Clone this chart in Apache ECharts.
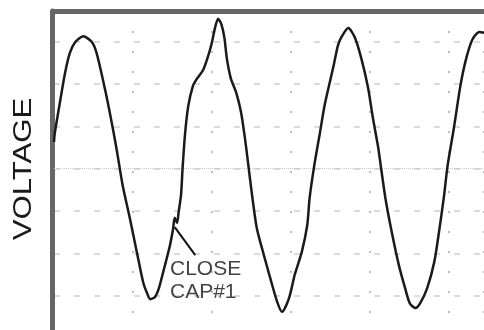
<!DOCTYPE html>
<html>
<head>
<meta charset="utf-8">
<script src="https://cdn.jsdelivr.net/npm/echarts@6/dist/echarts.min.js"></script>
<style>
html,body{margin:0;padding:0;background:#fff;}
#chart{width:484px;height:330px;}
</style>
</head>
<body>
<div id="chart"></div>
<script>
// time in screen divisions
const timeDiv = [0.00,0.01,0.08,0.14,0.20,0.27,0.37,0.48,0.54,0.62,0.68,0.75,0.80,0.87,0.96,1.05,1.13,1.18,1.22,1.28,1.33,1.38,1.43,1.47,1.51,1.53,1.56,1.58,1.61,1.63,1.66,1.70,1.76,1.81,1.89,1.95,2.00,2.04,2.08,2.12,2.16,2.19,2.24,2.31,2.37,2.42,2.46,2.51,2.57,2.66,2.74,2.83,2.89,2.98,3.05,3.14,3.21,3.24,3.30,3.37,3.43,3.54,3.60,3.65,3.73,3.81,3.89,3.98,4.04,4.11,4.14,4.20,4.28,4.37,4.45,4.51,4.58,4.64,4.73,4.82,4.88,4.94,4.99,5.07,5.15,5.22,5.30,5.39,5.45];
// voltage in screen divisions
const voltageDiv = [0.63,0.84,1.62,2.26,2.73,2.99,3.13,2.99,2.73,2.10,1.58,0.91,0.39,-0.39,-1.16,-1.97,-2.68,-2.94,-3.08,-3.03,-2.82,-2.47,-2.11,-1.81,-1.41,-1.16,-1.28,-1.02,-0.62,0.02,0.80,1.46,1.95,2.12,2.33,2.64,2.97,3.32,3.54,3.42,3.09,2.61,2.14,1.79,1.34,0.72,0.13,-0.62,-1.40,-2.04,-2.58,-3.15,-3.38,-3.05,-2.51,-1.97,-1.33,-0.69,0.09,0.84,1.50,2.40,2.92,3.13,3.32,3.11,2.64,1.92,1.22,0.49,0.09,-0.69,-1.49,-2.27,-2.82,-3.18,-3.29,-3.18,-2.82,-2.20,-1.49,-0.69,0.09,0.98,1.95,2.57,3.04,3.23,3.21];
// annotation: pointer from the capacitor-close event to the label
const annotationText = 'CLOSE\nCAP#1';
const annotationLineX = [1.53, 1.79];
const annotationLineY = [-1.38, -2.04];
const annotationLabelAt = [1.47, -2.65];
const axisTitle = 'VOLTAGE';

const wave = timeDiv.map((t, i) => [t, voltageDiv[i]]);
const pointer = annotationLineX.map((t, i) => [t, annotationLineY[i]]);

const chart = echarts.init(document.getElementById('chart'), null, {renderer: 'canvas'});
chart.setOption({
  animation: false,
  backgroundColor: '#ffffff',
  grid: {left: 54, right: 0, top: 11, height: 327.1, containLabel: false, outerBoundsMode: 'none'},
  xAxis: {
    type: 'value', position: 'top', min: 0, max: 5.45, interval: 1,
    axisLine: {show: true, onZero: false, lineStyle: {color: '#666666', width: 5}},
    axisTick: {show: false}, axisLabel: {show: false},
    splitLine: {show: true, lineStyle: {color: '#a8a8a8', width: 1.5, type: [2, 18]}}
  },
  yAxis: {
    type: 'value', min: -4, max: 3.724, interval: 1, offset: 1.5,
    axisLine: {show: true, onZero: false, lineStyle: {color: '#666666', width: 5}},
    axisTick: {show: false}, axisLabel: {show: false},
    splitLine: {show: true, lineStyle: {color: '#cfcfcf', width: 1.5, type: [6, 14]}}
  },
  graphic: [{
    type: 'text', x: 24, y: 169, rotation: Math.PI / 2, scaleX: 1.2,
    style: {text: axisTitle, fill: '#1a1a1a', font: '26px "Liberation Sans", Arial, sans-serif', align: 'center', verticalAlign: 'middle'}
  }],
  series: [
    {
      type: 'line', data: wave, showSymbol: false, smooth: 0.25, clip: false,
      lineStyle: {color: '#1a1a1a', width: 2.5}, z: 5,
      markLine: {
        silent: true, symbol: 'none', label: {show: false},
        lineStyle: {color: '#c8c8c8', width: 1, type: [1, 1]},
        data: [{yAxis: 0}]
      }
    },
    {
      type: 'line', data: pointer, showSymbol: false,
      lineStyle: {color: '#111', width: 2}, z: 6
    },
    {
      type: 'scatter', data: [annotationLabelAt], symbolSize: 0, z: 7,
      label: {show: true, position: [0, 0], formatter: annotationText, align: 'left', verticalAlign: 'middle',
        color: '#111', textBorderWidth: 0, fontSize: 21, lineHeight: 23.3, fontFamily: '"Liberation Sans", Arial, sans-serif'}
    }
  ]
});
</script>
</body>
</html>
